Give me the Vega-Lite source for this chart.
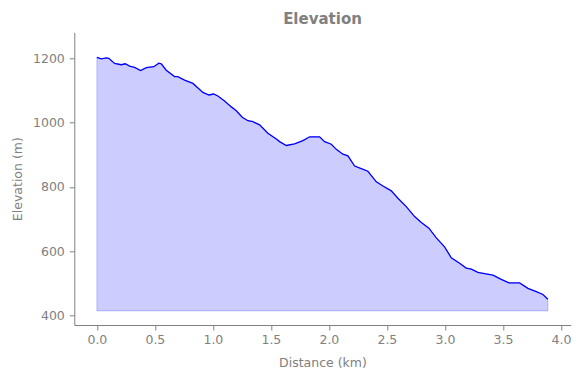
{
  "$schema": "https://vega.github.io/schema/vega-lite/v6.json",
  "autosize": "none",
  "width": 496.4,
  "height": 292.7,
  "padding": {"left": 74.3, "top": 32.3, "right": 10.3, "bottom": 53},
  "title": {"text": "Elevation", "font": "DejaVu Sans", "fontSize": 15, "fontWeight": "bold", "color": "#808080", "anchor": "middle", "baseline": "alphabetic", "offset": -7},
  "data": {"values": [
    {"dist": 0.0, "elev": 1203},
    {"dist": 0.038, "elev": 1198},
    {"dist": 0.081, "elev": 1201},
    {"dist": 0.103, "elev": 1200},
    {"dist": 0.153, "elev": 1184},
    {"dist": 0.21, "elev": 1180},
    {"dist": 0.245, "elev": 1183},
    {"dist": 0.282, "elev": 1176},
    {"dist": 0.325, "elev": 1172},
    {"dist": 0.377, "elev": 1162},
    {"dist": 0.426, "elev": 1171},
    {"dist": 0.491, "elev": 1174},
    {"dist": 0.534, "elev": 1185},
    {"dist": 0.555, "elev": 1183},
    {"dist": 0.598, "elev": 1163},
    {"dist": 0.67, "elev": 1143},
    {"dist": 0.698, "elev": 1143},
    {"dist": 0.756, "elev": 1132},
    {"dist": 0.828, "elev": 1122},
    {"dist": 0.914, "elev": 1094},
    {"dist": 0.966, "elev": 1086},
    {"dist": 1.006, "elev": 1089},
    {"dist": 1.043, "elev": 1083},
    {"dist": 1.101, "elev": 1067},
    {"dist": 1.159, "elev": 1049},
    {"dist": 1.202, "elev": 1037},
    {"dist": 1.253, "elev": 1017},
    {"dist": 1.302, "elev": 1006},
    {"dist": 1.345, "elev": 1003},
    {"dist": 1.403, "elev": 993},
    {"dist": 1.474, "elev": 967},
    {"dist": 1.547, "elev": 949},
    {"dist": 1.575, "elev": 941},
    {"dist": 1.633, "elev": 929},
    {"dist": 1.704, "elev": 934},
    {"dist": 1.776, "elev": 944},
    {"dist": 1.834, "elev": 956},
    {"dist": 1.92, "elev": 956},
    {"dist": 1.963, "elev": 941},
    {"dist": 2.021, "elev": 933},
    {"dist": 2.064, "elev": 917},
    {"dist": 2.121, "elev": 902},
    {"dist": 2.164, "elev": 897},
    {"dist": 2.222, "elev": 865},
    {"dist": 2.279, "elev": 857},
    {"dist": 2.336, "elev": 849},
    {"dist": 2.409, "elev": 816},
    {"dist": 2.466, "elev": 803},
    {"dist": 2.538, "elev": 788},
    {"dist": 2.595, "elev": 765},
    {"dist": 2.667, "elev": 739},
    {"dist": 2.739, "elev": 708},
    {"dist": 2.797, "elev": 690},
    {"dist": 2.862, "elev": 672},
    {"dist": 2.926, "elev": 642},
    {"dist": 2.997, "elev": 614},
    {"dist": 3.055, "elev": 580},
    {"dist": 3.127, "elev": 563},
    {"dist": 3.184, "elev": 548},
    {"dist": 3.228, "elev": 545},
    {"dist": 3.284, "elev": 535},
    {"dist": 3.342, "elev": 531},
    {"dist": 3.414, "elev": 526},
    {"dist": 3.486, "elev": 513},
    {"dist": 3.552, "elev": 502},
    {"dist": 3.644, "elev": 502},
    {"dist": 3.716, "elev": 485},
    {"dist": 3.788, "elev": 475},
    {"dist": 3.845, "elev": 466},
    {"dist": 3.888, "elev": 451}
  ]},
  "encoding": {
    "x": {"field": "dist", "type": "quantitative", "title": "Distance (km)",
      "scale": {"domain": [-0.1945, 4.0845], "nice": false, "zero": false},
      "axis": {"values": [0, 0.5, 1, 1.5, 2, 2.5, 3, 3.5, 4], "format": ".1f", "labelPadding": 3.5, "titlePadding": 10}},
    "y": {"field": "elev", "type": "quantitative", "title": "Elevation (m)",
      "scale": {"domain": [371.1, 1280.8], "nice": false, "zero": false},
      "axis": {"values": [400, 600, 800, 1000, 1200], "format": "d", "labelPadding": 5, "titlePadding": 8}}
  },
  "layer": [
    {"mark": {"type": "area", "fill": "blue", "fillOpacity": 0.2, "stroke": "blue", "strokeOpacity": 0.2, "strokeWidth": 1},
     "encoding": {"y2": {"datum": 415}}},
    {"mark": {"type": "line", "color": "blue", "strokeWidth": 1.3}}
  ],
  "config": {
    "font": "DejaVu Sans",
    "view": {"stroke": null},
    "axis": {
      "grid": false,
      "domainColor": "#808080",
      "tickColor": "#808080",
      "labelColor": "#808080",
      "titleColor": "#808080",
      "labelFont": "DejaVu Sans",
      "titleFont": "DejaVu Sans",
      "labelFontSize": 12.5,
      "titleFontSize": 12.5,
      "titleFontWeight": "normal",
      "tickSize": 5,
      "domainWidth": 1,
      "tickWidth": 1
    }
  }
}
